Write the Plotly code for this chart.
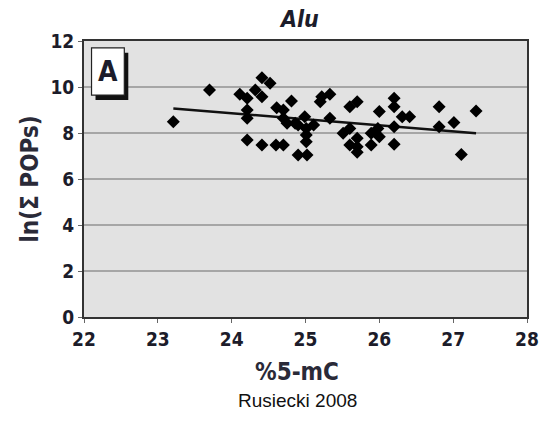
import plotly.graph_objects as go

# %5-mC (x) vs ln(sum POPs) (y) for each subject
methyl_pct = [23.21, 23.70, 24.11, 24.21, 24.41, 24.52, 24.32, 24.41, 24.21, 24.21,
              24.61, 24.21, 24.41, 24.60, 24.70, 24.81, 24.70, 24.75, 24.86, 24.90,
              24.70, 24.90, 25.02, 24.99, 25.01, 25.01, 25.01, 25.11, 25.22, 25.20,
              25.33, 25.33, 25.51, 25.60, 25.70, 25.60, 25.60, 25.70, 25.70, 25.70,
              25.89, 25.89, 25.98, 26.00, 26.00, 26.20, 26.20, 26.20, 26.20, 26.31,
              26.41, 26.81, 26.81, 27.01, 27.11, 27.31]
ln_pops = [8.49, 9.87, 9.68, 9.51, 10.40, 10.16, 9.87, 9.58, 9.00, 8.64,
           9.10, 7.70, 7.48, 7.48, 9.00, 9.39, 8.64, 8.42, 8.42, 8.35,
           7.48, 7.04, 7.04, 8.71, 8.20, 7.91, 7.62, 8.35, 9.58, 9.36,
           9.68, 8.64, 7.99, 9.14, 9.36, 8.20, 7.48, 7.77, 7.40, 7.16,
           7.48, 7.99, 8.20, 8.93, 7.84, 9.51, 9.14, 8.27, 7.51, 8.71,
           8.71, 9.14, 8.27, 8.46, 7.07, 8.96]

# fitted regression line endpoints
fit_x = [23.21, 27.31]
fit_y = [9.07, 7.99]

x_ticks = [22, 23, 24, 25, 26, 27, 28]
y_ticks = [0, 2, 4, 6, 8, 10, 12]

cond = "DejaVu Sans Condensed, Liberation Sans Narrow, Arial Narrow, sans-serif"
ink = "#1c1c2a"

fig = go.Figure()
fig.add_trace(go.Scatter(
    x=fit_x, y=fit_y, mode="lines",
    line=dict(color="#111111", width=2.5), hoverinfo="skip", showlegend=False))
fig.add_trace(go.Scatter(
    x=methyl_pct, y=ln_pops, mode="markers",
    marker=dict(symbol="diamond", size=10, color="#000000"),
    showlegend=False))

fig.update_layout(
    width=541, height=426,
    margin=dict(l=83.5, r=13.5, t=41, b=109, autoexpand=False),
    paper_bgcolor="white",
    plot_bgcolor="#e2e2e2",
    xaxis=dict(
        range=[22, 28], tickvals=x_ticks, ticktext=[str(v) for v in x_ticks],
        showgrid=False, zeroline=False, automargin=False,
        showline=True, linecolor="#333333", linewidth=2, mirror=True,
        ticks="outside", ticklen=4, tickcolor="#666666",
        tickfont=dict(family=cond, size=19, color=ink, weight="bold"),
    ),
    yaxis=dict(
        range=[0, 12], tickvals=y_ticks, ticktext=[str(v) for v in y_ticks],
        showgrid=True, gridcolor="#a6a6a6", gridwidth=1.5, zeroline=False, automargin=False,
        showline=True, linecolor="#333333", linewidth=2, mirror=True,
        ticks="outside", ticklen=4, tickcolor="#666666",
        tickfont=dict(family=cond, size=19, color=ink, weight="bold"),
        title=dict(text="<b>ln(Σ POPs)</b>", font=dict(family=cond, size=24, color="#2a2a38"),
                   standoff=5),
    ),
    shapes=[
        # shadow behind the panel label box
        dict(type="rect", xref="paper", yref="paper",
             x0=0.026, x1=0.100, y0=0.786, y1=0.957,
             fillcolor="#111111", line=dict(width=0), layer="above"),
        # panel label box
        dict(type="rect", xref="paper", yref="paper",
             x0=0.017, x1=0.091, y0=0.804, y1=0.975,
             fillcolor="white", line=dict(color="#222222", width=1.2), layer="above"),
    ],
    annotations=[
        dict(text="<b>A</b>", xref="paper", yref="paper", x=0.054, y=0.889,
             xanchor="center", yanchor="middle", showarrow=False,
             font=dict(family=cond, size=28, color=ink)),
        dict(text="<b><i>Alu</i></b>", xref="paper", yref="paper", x=0.485, y=1.0,
             yshift=22, xanchor="center", yanchor="middle", showarrow=False,
             font=dict(family=cond, size=23, color=ink)),
        dict(text="<b>%5-mC</b>", xref="paper", yref="paper", x=0.481, y=0,
             yshift=-55, xanchor="center", yanchor="middle", showarrow=False,
             font=dict(family=cond, size=24, color="#2a2a38")),
        dict(text="Rusiecki 2008", xref="paper", yref="paper", x=0.483, y=0,
             yshift=-83, xanchor="center", yanchor="middle", showarrow=False,
             font=dict(family="Liberation Sans, Arial, sans-serif", size=19, color="#111111")),
    ],
)

fig.write_html("out.html")
